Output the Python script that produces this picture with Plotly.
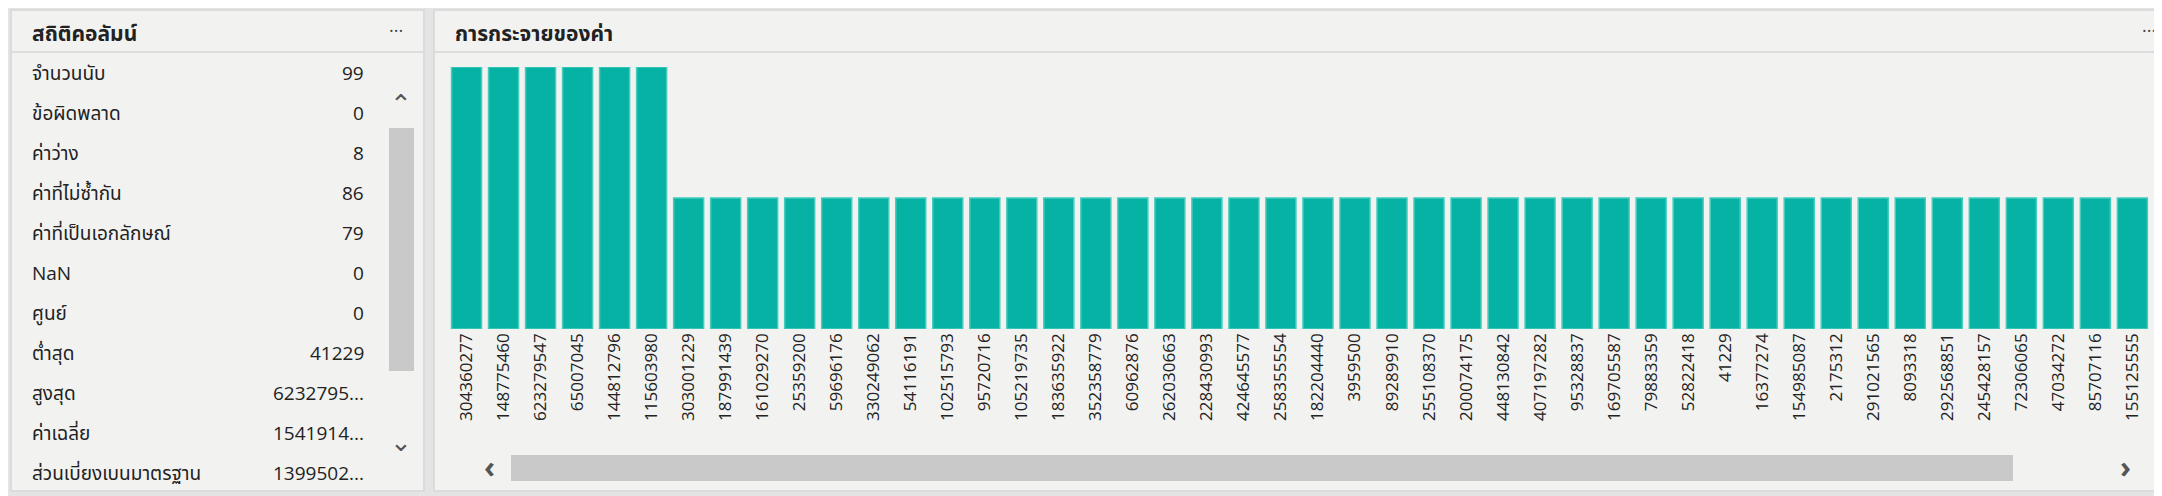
import plotly.graph_objects as go

# value distribution (visible part of the scrolled chart)
values = ["304360277", "148775460", "623279547", "65007045", "144812796", "115603980",
          "303001229", "187991439", "161029270", "25359200", "59696176", "330249062",
          "54116191", "102515793", "95720716", "105219735", "183635922", "352358779",
          "60962876", "262030663", "228430993", "424645577", "258355554", "182204440",
          "3959500", "89289910", "255108370", "200074175", "448130842", "407197282",
          "95328837", "169705587", "79883359", "52822418", "41229", "16377274",
          "154985087", "2175312", "291021565", "8093318", "292568851", "245428157",
          "72306065", "47034272", "85707116", "155125555"]
counts = [2, 2, 2, 2, 2, 2] + [1] * 40

# column statistics
stat_names = ["จำนวนนับ", "ข้อผิดพลาด", "ค่าว่าง", "ค่าที่ไม่ซ้ำกัน", "ค่าที่เป็นเอกลักษณ์", "NaN",
              "ศูนย์", "ต่ำสุด", "สูงสุด", "ค่าเฉลี่ย", "ส่วนเบี่ยงเบนมาตรฐาน"]
stat_values = ["99", "0", "8", "86", "79", "0", "0", "41229", "6232795...", "1541914...", "1399502..."]

W, H = 2162, 496
L, R, T, B = 440, 2154, 59, 321
FONT = "Open Sans, Noto Sans Thai, Noto Sans, sans-serif"


def px(x):
    return (x - L) / (R - L)


def py(y):
    return (B - y) / (B - T)


fig = go.Figure(go.Bar(
    x=values, y=counts,
    marker=dict(color="#05b2a3", line=dict(color="#46cbbd", width=1.5)),
    hoverinfo="x+y",
))

shapes = [
    # outer backgrounds
    dict(type="rect", xref="paper", yref="paper", x0=px(0), x1=px(W), y0=py(H), y1=py(0),
         fillcolor="#e4e4e4", line_width=0, layer="below"),
    dict(type="rect", xref="paper", yref="paper", x0=px(3), x1=px(416), y0=py(483), y1=py(2),
         fillcolor="#f2f2f1", line=dict(color="#d6d6d6", width=1.5), layer="below"),
    dict(type="rect", xref="paper", yref="paper", x0=px(426), x1=px(2162), y0=py(483), y1=py(2),
         fillcolor="#f2f2f1", line=dict(color="#d6d6d6", width=1.5), layer="below"),
    dict(type="line", xref="paper", yref="paper", x0=px(3), x1=px(416), y0=py(44), y1=py(44),
         line=dict(color="#d6d6d6", width=1.5)),
    dict(type="line", xref="paper", yref="paper", x0=px(426), x1=px(2162), y0=py(44), y1=py(44),
         line=dict(color="#d6d6d6", width=1.5)),
    # vertical scrollbar
    dict(type="rect", xref="paper", yref="paper", x0=px(381), x1=px(406), y0=py(363), y1=py(120),
         fillcolor="#c9c9c9", line_width=0),
    # horizontal scrollbar
    dict(type="rect", xref="paper", yref="paper", x0=px(503), x1=px(2005), y0=py(473), y1=py(447),
         fillcolor="#c9c9c9", line_width=0),
]

annotations = [
    dict(text="<b>สถิติคอลัมน์</b>", x=px(22), y=py(25), xanchor="left", yanchor="middle",
         font=dict(size=21, color="#222")),
    dict(text="···", x=px(388), y=py(22), xanchor="center", yanchor="middle",
         font=dict(size=18, color="#444")),
    dict(text="<b>การกระจายของค่า</b>", x=px(445), y=py(25), xanchor="left", yanchor="middle",
         font=dict(size=21, color="#222")),
    dict(text="···", x=px(2141), y=py(22), xanchor="center", yanchor="middle",
         font=dict(size=18, color="#444")),
    dict(text="⌃", x=px(393), y=py(95), xanchor="center", yanchor="middle",
         font=dict(size=26, color="#555")),
    dict(text="⌄", x=px(393), y=py(433), xanchor="center", yanchor="middle",
         font=dict(size=26, color="#555")),
    dict(text="<b>‹</b>", x=px(481), y=py(459), xanchor="center", yanchor="middle",
         font=dict(size=30, color="#555")),
    dict(text="<b>›</b>", x=px(2117), y=py(459), xanchor="center", yanchor="middle",
         font=dict(size=30, color="#555")),
]
for i, (name, val) in enumerate(zip(stat_names, stat_values)):
    yy = 65 + 40 * i
    annotations.append(dict(text=name, x=px(22), y=py(yy), xanchor="left", yanchor="middle",
                            font=dict(size=19, color="#222")))
    annotations.append(dict(text=val, x=px(358), y=py(yy), xanchor="right", yanchor="middle",
                            font=dict(size=19, color="#222")))
for a in annotations:
    a.update(xref="paper", yref="paper", showarrow=False)

fig.update_layout(
    width=W, height=H,
    margin=dict(l=L, r=W - R, t=T, b=H - B),
    paper_bgcolor="#f2f2f1", plot_bgcolor="rgba(0,0,0,0)",
    font=dict(family=FONT, color="#222"),
    bargap=0.19, showlegend=False,
    shapes=shapes, annotations=annotations,
    xaxis=dict(range=[-0.5, 45.8], tickangle=-90, tickfont=dict(size=17, color="#222"),
               showgrid=False, showline=False, ticks="", fixedrange=True),
    yaxis=dict(range=[0, 2], visible=False, fixedrange=True),
)

fig.write_html("out.html", config={"displayModeBar": False})
